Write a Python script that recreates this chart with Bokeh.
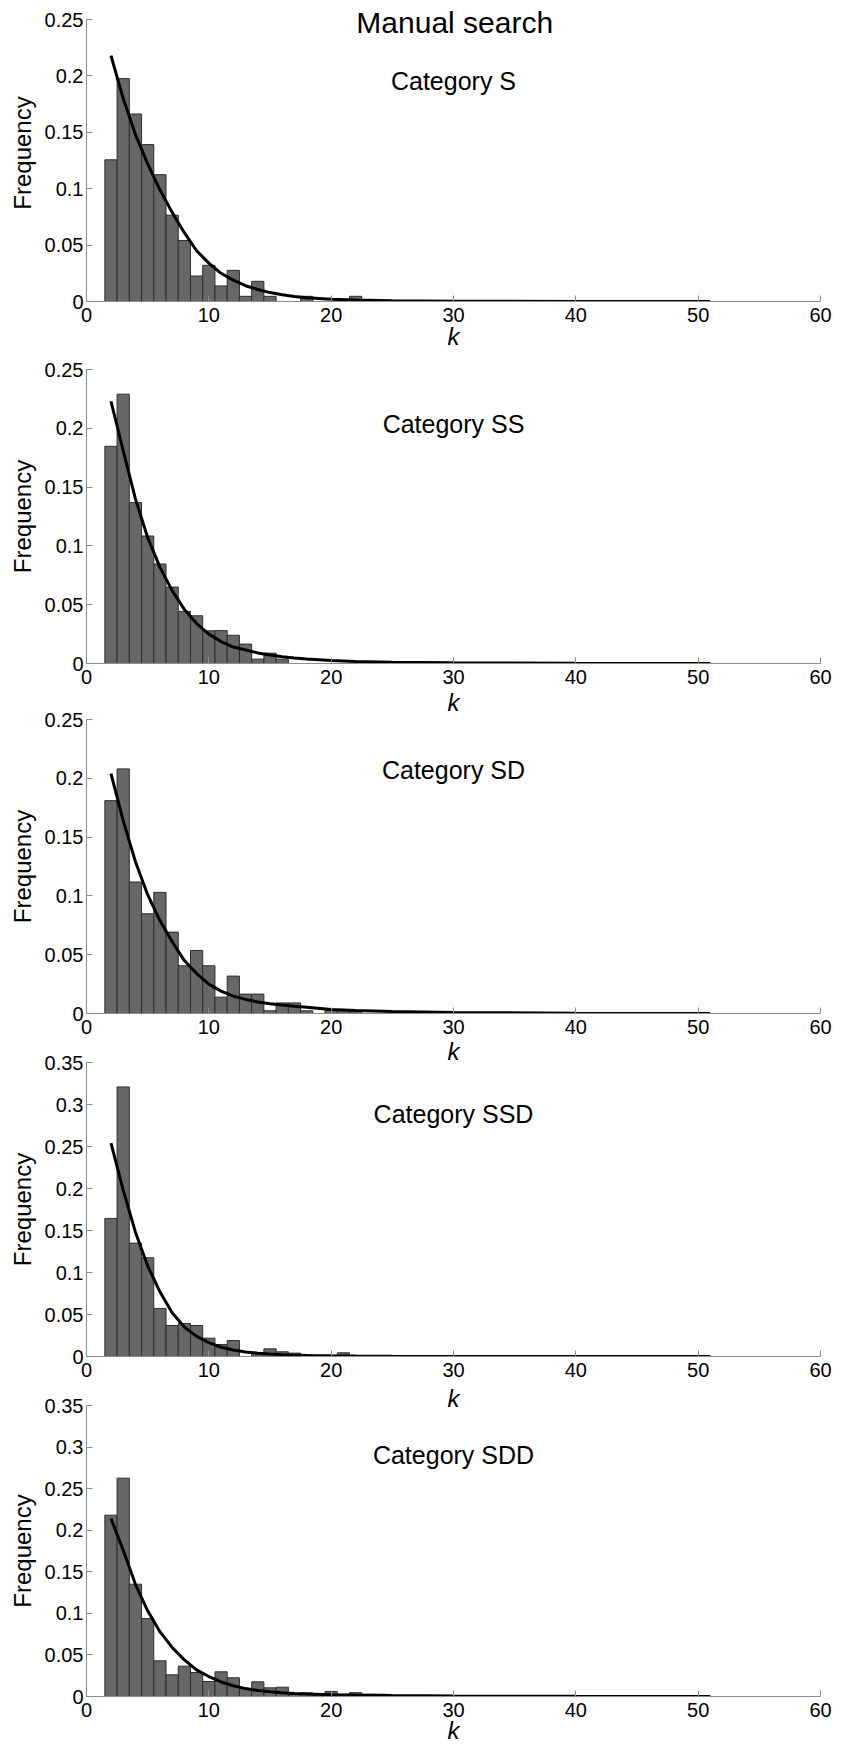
from bokeh.plotting import figure
from bokeh.layouts import column
from bokeh.models import Range1d, FixedTicker, PrintfTickFormatter, Label
from bokeh.embed import file_html
from bokeh.resources import INLINE

# ---------------- data ----------------
categories = ["Category S", "Category SS", "Category SD", "Category SSD", "Category SDD"]
chart_title = "Manual search"

bin_k = list(range(2, 25))  # histogram bin centres, bin width 1

freq_S = [0.1256, 0.1976, 0.1662, 0.1391, 0.1124, 0.0765, 0.0541, 0.0226, 0.0321, 0.0138,
          0.0276, 0.0046, 0.0179, 0.0046, 0.0, 0.0, 0.0046, 0.0, 0.0, 0.0, 0.0046, 0.0, 0.0]
freq_SS = [0.1847, 0.2290, 0.1368, 0.1084, 0.0846, 0.0650, 0.0443, 0.0406, 0.0278, 0.0280,
           0.0240, 0.0165, 0.0037, 0.0088, 0.0037, 0.0, 0.0, 0.0, 0.0, 0.0, 0.0, 0.0, 0.0]
freq_SD = [0.1810, 0.2080, 0.1118, 0.0848, 0.1030, 0.0692, 0.0406, 0.0536, 0.0406, 0.0139,
           0.0318, 0.0165, 0.0165, 0.0023, 0.0090, 0.0090, 0.0023, 0.0, 0.0030, 0.0030, 0.0020, 0.0, 0.0]
freq_SSD = [0.1644, 0.3209, 0.1350, 0.1176, 0.0572, 0.0369, 0.0393, 0.0369, 0.0218, 0.0143,
            0.0190, 0.0, 0.0044, 0.0091, 0.0056, 0.0040, 0.0020, 0.0, 0.0, 0.0044, 0.0, 0.0, 0.0]
freq_SDD = [0.2181, 0.2626, 0.1351, 0.0938, 0.0429, 0.0261, 0.0365, 0.0289, 0.0180, 0.0297,
            0.0225, 0.0096, 0.0176, 0.0104, 0.0112, 0.0028, 0.0044, 0.0030, 0.0060, 0.0026, 0.0046, 0.0026, 0.0026]

fit_k = [2, 3, 4, 5, 6, 7, 8, 9, 10, 11, 12, 13, 14, 15, 16, 17, 18, 20, 22, 25, 30, 40, 51]
fit_S = [0.218, 0.180, 0.148, 0.122, 0.099, 0.079, 0.061, 0.045, 0.034, 0.025, 0.019, 0.014,
         0.0106, 0.0079, 0.006, 0.0045, 0.0034, 0.002, 0.0013, 0.0007, 0.0003, 0.0001, 0.00003]
fit_SS = [0.223, 0.181, 0.140, 0.107, 0.082, 0.062, 0.046, 0.034, 0.025, 0.0187, 0.014, 0.0115,
          0.009, 0.0072, 0.0057, 0.0047, 0.0038, 0.0026, 0.0018, 0.0011, 0.0006, 0.0002, 0.0001]
fit_SD = [0.204, 0.164, 0.129, 0.101, 0.079, 0.061, 0.045, 0.034, 0.025, 0.019, 0.0148, 0.012,
          0.0098, 0.0083, 0.0072, 0.0062, 0.0053, 0.0034, 0.0025, 0.0017, 0.0009, 0.0003, 0.0001]
fit_SSD = [0.254, 0.198, 0.148, 0.108, 0.077, 0.052, 0.035, 0.024, 0.0165, 0.011, 0.0077, 0.0053,
           0.0039, 0.0029, 0.0022, 0.0017, 0.0013, 0.0008, 0.0005, 0.0003, 0.0001, 0.0, 0.0]
fit_SDD = [0.214, 0.176, 0.135, 0.103, 0.078, 0.059, 0.044, 0.032, 0.024, 0.0175, 0.013, 0.0095,
           0.0073, 0.0058, 0.0045, 0.0037, 0.003, 0.0022, 0.0017, 0.0012, 0.0006, 0.0002, 0.0001]

freqs = [freq_S, freq_SS, freq_SD, freq_SSD, freq_SDD]
fits = [fit_S, fit_SS, fit_SD, fit_SSD, fit_SDD]
y_max = [0.25, 0.25, 0.25, 0.35, 0.35]
x_ticks = [0, 10, 20, 30, 40, 50, 60]
y_ticks_025 = [0, 0.05, 0.1, 0.15, 0.2, 0.25]
y_ticks_035 = [0, 0.05, 0.1, 0.15, 0.2, 0.25, 0.3, 0.35]

# ---------------- layout (pixels) ----------------
FONT = "Liberation Sans"
WIDTH = 838
BORDER_L = 86
BORDER_R = 18
# panel 1 frame is extended 15 px upwards (above the 0.25 limit) so that the
# title, which overlaps the top of the axes, is not clipped by the frame
EXTRA_TOP = [15, 0, 0, 0, 0]
frame_h = [282, 294, 294, 294, 291]
border_t = [4, 12, 12, 12, 12]
border_b = [53, 57, 56, 60, 52]
k_standoff = [-2, 2, 1, 5, -3]
margin_t = [0, 3, -13, -19, -23]
cat_y_frac = [0.782, 0.814, 0.827, 0.824, 0.831]

AXIS_COLOR = "#8c8c8c"

plots = []
for i in range(5):
    ticks = y_ticks_025 if y_max[i] < 0.3 else y_ticks_035
    fh = frame_h[i] + EXTRA_TOP[i]
    y_top = y_max[i] * (1 + EXTRA_TOP[i] / frame_h[i])
    h = border_t[i] + fh + border_b[i]
    p = figure(width=WIDTH, height=h,
               x_range=Range1d(0, 60), y_range=Range1d(0, y_top),
               output_backend="svg", toolbar_location=None,
               min_border_left=BORDER_L, min_border_right=BORDER_R,
               min_border_top=border_t[i], min_border_bottom=border_b[i],
               margin=(margin_t[i], 0, 0, 0))
    p.background_fill_color = None
    p.border_fill_color = None
    p.outline_line_color = None
    p.xgrid.grid_line_color = None
    p.ygrid.grid_line_color = None

    ks = [k for k, f in zip(bin_k, freqs[i]) if f > 0]
    fs = [f for f in freqs[i] if f > 0]
    p.vbar(x=ks, top=fs, bottom=0, width=1.0,
           fill_color="#676767", line_color="#2e2e2e", line_width=1)
    p.line(fit_k, fits[i], line_color="black", line_width=3)

    # axes
    for ax in (p.xaxis[0], p.yaxis[0]):
        ax.axis_line_color = AXIS_COLOR
        ax.major_tick_line_color = AXIS_COLOR
        ax.minor_tick_line_color = None
        ax.major_tick_in = 6
        ax.major_tick_out = 0
        ax.major_label_text_font = FONT
        ax.major_label_text_font_size = "20px"
        ax.major_label_text_color = "black"
        ax.axis_label_text_font = FONT
        ax.axis_label_text_font_size = "24px"
        ax.axis_label_text_color = "black"
    p.xaxis.ticker = FixedTicker(ticks=x_ticks)
    p.xaxis.major_label_standoff = 6
    p.xaxis.axis_label = "k"
    p.xaxis.axis_label_text_font_style = "italic"
    p.xaxis.axis_label_standoff = k_standoff[i]
    p.yaxis.ticker = FixedTicker(ticks=ticks)
    p.yaxis.bounds = (0, y_max[i])
    p.yaxis.formatter = PrintfTickFormatter(format="%g")
    p.yaxis.major_label_standoff = 3
    p.yaxis.axis_label = "Frequency"
    p.yaxis.axis_label_text_font_style = "normal"
    p.yaxis.axis_label_standoff = 6

    p.add_layout(Label(x=30, y=y_max[i] * cat_y_frac[i], text=categories[i],
                       text_font=FONT, text_font_size="25px", text_color="black",
                       text_align="center", text_baseline="middle"))
    if i == 0:
        p.add_layout(Label(x=30.1, y=y_max[i] * 0.988, text=chart_title,
                           text_font=FONT, text_font_size="30px", text_color="black",
                           text_align="center", text_baseline="middle"))
    plots.append(p)

layout = column(*plots)
open("out.html", "w").write(file_html(layout, INLINE))
